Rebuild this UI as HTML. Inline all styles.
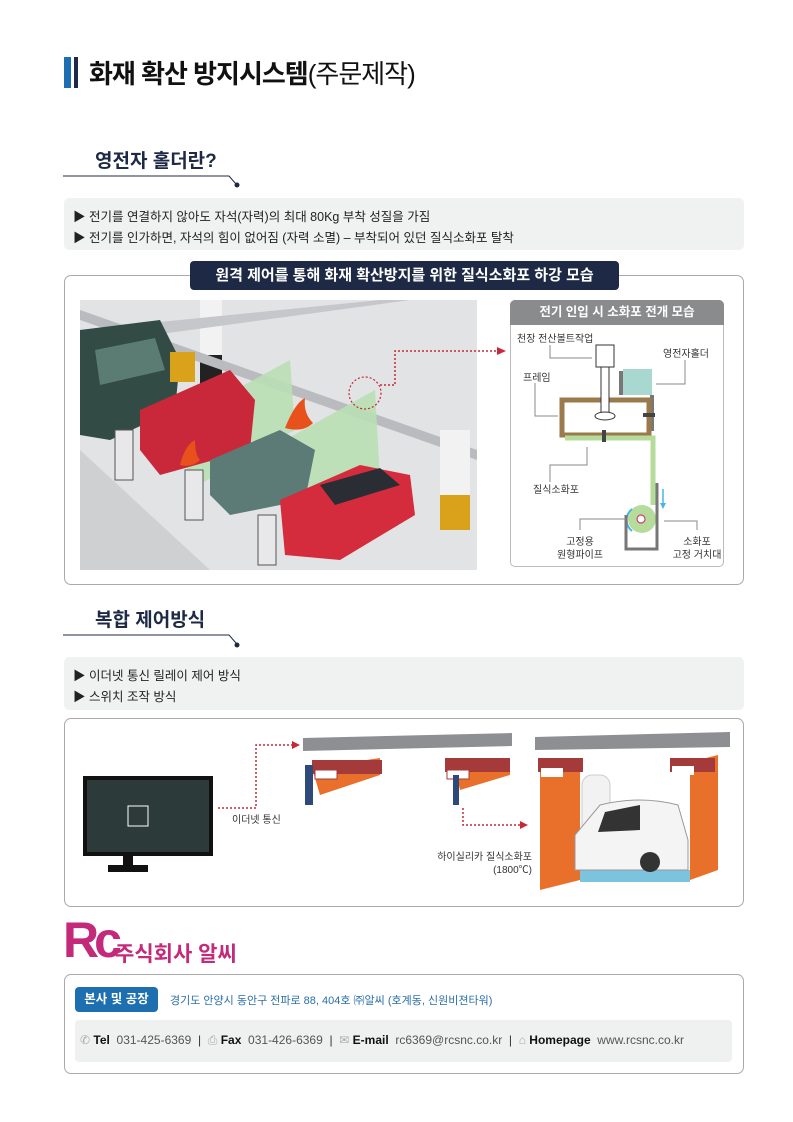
<!DOCTYPE html>
<html><head><meta charset="utf-8">
<style>
*{margin:0;padding:0;box-sizing:border-box}
body{width:793px;height:1122px;background:#fff;position:relative;font-family:"Liberation Sans","Noto Sans CJK KR",sans-serif;color:#222;overflow:hidden}
.a{position:absolute;white-space:nowrap}
.gbox{position:absolute;left:64px;width:680px;background:#f0f1f1;border-radius:5px}
.panel{position:absolute;left:64px;width:680px;border:1px solid #a9a9a9;border-radius:7px}
.h2{position:absolute;left:95px;font-size:19px;font-weight:bold;color:#1e2a45}
.li{font-size:12.5px;color:#222}
</style></head><body>
<div class="a" style="left:64px;top:57px;width:7px;height:31px;background:#1e6fb1"></div>
<div class="a" style="left:74px;top:57px;width:4px;height:31px;background:#1e2a45"></div>
<div class="a" style="left:89px;top:54px;font-size:26px;font-weight:bold;color:#111;letter-spacing:-1px">화재 확산 방지시스템<span style="font-weight:normal">(주문제작)</span></div>

<div class="h2" style="top:146px">영전자 홀더란?</div>
<svg class="a" style="left:0;top:0" width="793" height="1122">
<polyline points="63,176 229,176 236,184" fill="none" stroke="#1e2a45" stroke-width="1"/>
<circle cx="237" cy="185" r="2.5" fill="#1e2a45"/>
<polyline points="63,635 229,635 236,643" fill="none" stroke="#1e2a45" stroke-width="1"/>
<circle cx="237" cy="645" r="2.5" fill="#1e2a45"/>
</svg>
<div class="gbox" style="top:198px;height:52px"></div>
<div class="a li" style="left:73px;top:206px">▶ 전기를 연결하지 않아도 자석(자력)의 최대 80Kg 부착 성질을 가짐</div>
<div class="a li" style="left:73px;top:227px">▶ 전기를 인가하면, 자석의 힘이 없어짐 (자력 소멸) – 부착되어 있던 질식소화포 탈착</div>

<div class="panel" style="top:275px;height:310px"></div>
<div class="a" style="left:190px;top:261px;width:429px;height:29px;background:#1e2a45;border-radius:4px;color:#fff;font-size:15px;font-weight:bold;text-align:center;line-height:29px">원격 제어를 통해 화재 확산방지를 위한 질식소화포 하강 모습</div>

<!-- parking illustration -->
<svg class="a" style="left:80px;top:300px" width="397" height="270" viewBox="0 0 397 270">
<rect width="397" height="270" fill="#e2e3e5"/>
<polygon points="0,150 130,270 0,270" fill="#cfd0d2"/>
<rect x="120" y="0" width="22" height="90" fill="#f2f2f2"/>
<rect x="120" y="55" width="22" height="30" fill="#222"/>
<polygon points="0,10 397,150 397,160 0,20" fill="#b9bbbe"/>
<polygon points="0,30 300,0 330,0 0,45" fill="#c5c7ca"/>
<polygon points="100,120 210,60 215,130 110,190" fill="#b9dfb4" opacity="0.9"/>
<polygon points="205,140 295,90 300,180 210,225" fill="#b9dfb4" opacity="0.9"/>
<polygon points="0,30 80,20 100,60 95,110 30,140 0,135" fill="#324b44"/>
<polygon points="15,50 75,38 85,70 20,85" fill="#5a7c73"/>
<polygon points="60,110 150,70 175,100 170,150 80,175 60,150" fill="#c8283a"/>
<polygon points="130,160 200,130 235,150 225,200 150,215 130,195" fill="#5c7a76"/>
<polygon points="200,200 280,165 330,175 335,215 260,260 205,255" fill="#d42c3c"/>
<polygon points="240,185 300,168 320,185 255,205" fill="#2a2d33"/>
<rect x="35" y="130" width="18" height="50" fill="#e8e8ea" stroke="#555"/>
<rect x="105" y="170" width="18" height="50" fill="#e8e8ea" stroke="#555"/>
<rect x="178" y="215" width="18" height="50" fill="#e8e8ea" stroke="#555"/>
<rect x="360" y="130" width="30" height="100" fill="#f2f2f2"/>
<rect x="360" y="195" width="30" height="35" fill="#d9a21a"/>
<rect x="90" y="52" width="25" height="30" fill="#d9a21a"/>
<path d="M205,128 q10,-25 20,-30 q-2,15 8,25 q-10,10 -28,5z" fill="#e8501c"/>
<path d="M100,165 q5,-20 15,-25 q0,15 5,20 q-8,8 -20,5z" fill="#e8501c"/>
<circle cx="285" cy="93" r="16" fill="none" stroke="#c8283a" stroke-width="1.2" stroke-dasharray="2,2"/>
</svg>
<svg class="a" style="left:0;top:0" width="793" height="1122">
<polyline points="380,385 395,385 395,351 497,351" fill="none" stroke="#c8283a" stroke-width="1.5" stroke-dasharray="2,2"/>
<polygon points="497,347 506,351 497,355" fill="#c8283a"/>
</svg>

<!-- right diagram -->
<div class="a" style="left:510px;top:300px;width:214px;height:267px;border:1px solid #bbb;border-radius:5px;background:#fff"></div>
<div class="a" style="left:510px;top:300px;width:214px;height:25px;background:#8a8b8d;border-radius:5px 5px 0 0;color:#fff;font-size:12.5px;font-weight:bold;text-align:center;line-height:25px">전기 인입 시 소화포 전개 모습</div>
<svg class="a" style="left:0;top:0" width="793" height="1122" font-family="Liberation Sans, Noto Sans CJK KR, sans-serif" font-size="10" fill="#333">
<rect x="623" y="369" width="29" height="26" fill="#a8d8cf"/>
<rect x="619" y="371" width="4" height="24" fill="#777"/>
<rect x="650" y="395" width="4" height="36" fill="#777"/>
<rect x="562" y="400" width="87" height="35" fill="none" stroke="#9a7a4a" stroke-width="5"/>
<polyline points="565,438 653,438 653,505" fill="none" stroke="#b5dc9a" stroke-width="5"/>
<circle cx="642" cy="519" r="14" fill="#b5dc9a"/>
<circle cx="641" cy="519" r="4" fill="#fff" stroke="#d04070" stroke-width="1.2"/>
<path d="M632,509 a14,14 0 0 0 0,22" fill="none" stroke="#4ab3e6" stroke-width="2"/>
<polyline points="626,515 626,549 657,549 657,483" fill="none" stroke="#777" stroke-width="3"/>
<line x1="663" y1="489" x2="663" y2="505" stroke="#4ab3e6" stroke-width="1.5"/>
<polygon points="660,503 666,503 663,509" fill="#4ab3e6"/>
<rect x="596" y="345" width="18" height="22" fill="#fff" stroke="#333"/>
<rect x="601" y="367" width="8" height="48" fill="#fff" stroke="#333"/>
<ellipse cx="605" cy="416" rx="10" ry="4" fill="#fff" stroke="#333"/>
<rect x="602" y="430" width="4" height="12" fill="#444"/>
<rect x="643" y="413" width="12" height="4" fill="#444"/>
<g stroke="#888" fill="none"><polyline points="550,345 550,358 592,358"/><polyline points="685,360 685,384 656,384"/><polyline points="535,383 535,416 558,416"/><polyline points="550,482 550,465 587,465 587,447"/><polyline points="580,530 580,519 626,519"/><polyline points="697,530 697,521 664,521"/></g>
<text x="517" y="342">천장 전산볼트작업</text>
<text x="663" y="357">영전자홀더</text>
<text x="523" y="381">프레임</text>
<text x="533" y="493">질식소화포</text>
<text x="580" y="545" text-anchor="middle">고정용</text>
<text x="580" y="558" text-anchor="middle">원형파이프</text>
<text x="697" y="545" text-anchor="middle">소화포</text>
<text x="697" y="558" text-anchor="middle">고정 거치대</text>
</svg>

<div class="h2" style="top:605px">복합 제어방식</div>
<div class="gbox" style="top:657px;height:53px"></div>
<div class="a li" style="left:73px;top:665px">▶ 이더넷 통신 릴레이 제어 방식</div>
<div class="a li" style="left:73px;top:686px">▶ 스위치 조작 방식</div>

<div class="panel" style="top:718px;height:189px"></div>
<svg class="a" style="left:0;top:0" width="793" height="1122" font-family="Liberation Sans, Noto Sans CJK KR, sans-serif" font-size="10" fill="#333">
<rect x="83" y="776" width="130" height="80" fill="#111"/>
<rect x="87" y="780" width="122" height="72" fill="#2c3a3a"/>
<rect x="128" y="806" width="20" height="20" fill="none" stroke="#fff"/>
<rect x="123" y="855" width="10" height="10" fill="#111"/>
<rect x="108" y="865" width="40" height="7" fill="#111"/>
<polyline points="218,808 256,808 256,745 293,745" fill="none" stroke="#c8283a" stroke-width="1.5" stroke-dasharray="2,2"/>
<polygon points="292,741 300,745 292,749" fill="#c8283a"/>
<text x="232" y="823">이더넷 통신</text>
<polygon points="303,738 512,733 512,746 303,751" fill="#8e8f92"/>
<polygon points="312,768 380,758 380,775 320,795" fill="#e8702a"/>
<rect x="312" y="760" width="70" height="14" fill="#a53a3a"/>
<rect x="315" y="770" width="22" height="9" fill="#fff" stroke="#a53a3a"/>
<rect x="305" y="765" width="8" height="40" fill="#2d4a7a"/>
<polygon points="455,768 510,758 510,775 460,790" fill="#e8702a"/>
<rect x="445" y="758" width="65" height="14" fill="#a53a3a"/>
<rect x="447" y="770" width="22" height="9" fill="#fff" stroke="#a53a3a"/>
<rect x="453" y="775" width="6" height="30" fill="#2d4a7a"/>
<polyline points="463,808 463,825 522,825" fill="none" stroke="#c8283a" stroke-width="1.5" stroke-dasharray="2,2"/>
<polygon points="520,821 528,825 520,829" fill="#c8283a"/>
<polygon points="535,737 730,732 730,747 535,750" fill="#8e8f92"/>
<polygon points="540,770 580,763 580,880 540,890" fill="#e8702a"/>
<polygon points="690,762 718,755 718,870 690,880" fill="#e8702a"/>
<rect x="538" y="758" width="45" height="14" fill="#a53a3a"/>
<rect x="541" y="768" width="22" height="9" fill="#fff"/>
<rect x="670" y="758" width="45" height="14" fill="#a53a3a"/>
<rect x="672" y="766" width="22" height="9" fill="#fff"/>
<rect x="580" y="870" width="110" height="12" fill="#7cc4de"/>
<rect x="582" y="775" width="28" height="60" rx="10" fill="#f2f2f2" stroke="#ccc"/>
<path d="M575,860 L575,835 L600,805 Q640,795 678,805 L688,840 L688,870 L575,870Z" fill="#f4f4f4" stroke="#999"/>
<path d="M605,812 L640,805 L640,830 L598,832Z" fill="#333"/>
<circle cx="650" cy="862" r="10" fill="#333"/>
<text x="532" y="860" text-anchor="end">하이실리카 질식소화포</text>
<text x="532" y="873" text-anchor="end">(1800℃)</text>
</svg>

<!-- footer -->
<div class="a" style="left:63px;top:912px;font-size:50px;line-height:56px;font-weight:bold;color:#c42a7a;letter-spacing:-5px">Rc</div>
<div class="a" style="left:115px;top:938px;font-size:21px;font-weight:bold;color:#c42a7a">주식회사 알씨</div>
<div class="panel" style="top:974px;height:100px"></div>
<div class="a" style="left:75px;top:987px;width:83px;height:25px;background:#1d6fb0;border-radius:4px;color:#fff;font-size:12.5px;font-weight:bold;text-align:center;line-height:25px">본사 및 공장</div>
<div class="a" style="left:170px;top:992px;font-size:11px;color:#2a6fa8">경기도 안양시 동안구 전파로 88, 404호 ㈜알씨 (호계동, 신원비젼타워)</div>
<div class="a" style="left:75px;top:1020px;width:657px;height:42px;background:#eff0f0;border-radius:4px"></div>
<div class="a" style="left:80px;top:1033px;font-size:12px;color:#555">
<span style="color:#aaa">✆</span> <b style="color:#111">Tel</b>&nbsp; 031-425-6369 &nbsp;<span style="color:#333">|</span>&nbsp; <span style="color:#aaa">⎙</span> <b style="color:#111">Fax</b>&nbsp; 031-426-6369 &nbsp;<span style="color:#333">|</span>&nbsp; <span style="color:#aaa">✉</span> <b style="color:#111">E-mail</b>&nbsp; rc6369@rcsnc.co.kr &nbsp;<span style="color:#333">|</span>&nbsp; <span style="color:#aaa">⌂</span> <b style="color:#111">Homepage</b>&nbsp; www.rcsnc.co.kr</div>
</body></html>
